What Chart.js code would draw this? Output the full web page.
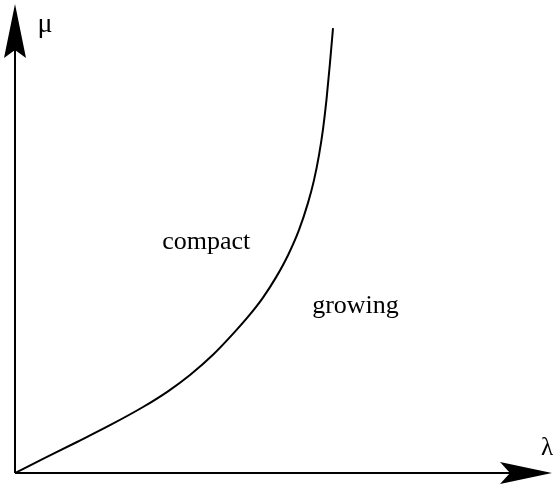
<!DOCTYPE html>
<html>
<head>
<meta charset="utf-8">
<script src="https://cdn.jsdelivr.net/npm/chart.js@4"></script>
<style>
  html, body { margin: 0; padding: 0; background: #fff; }
  canvas { display: block; }
</style>
</head>
<body>
<canvas id="phaseChart" width="554" height="486"></canvas>
<script>
// boundary curve between the two regions
const lambdaValues = [0, 5.21, 11.55, 17.69, 23.84, 28.49, 32.59, 36.87, 40.97, 43.76, 46.18,
                      48.60, 50.84, 52.89, 54.56, 55.68, 56.61, 57.36, 58.01, 58.66, 59.22];
const muValues     = [0, 2.99, 6.61, 10.19, 14.07, 17.42, 20.90, 25.20, 30.13, 33.80, 37.40,
                      41.71, 46.44, 51.83, 57.59, 62.45, 67.78, 73.33, 79.66, 87.50, 94.86];
const regionNames  = ['compact', 'growing'];
const axisNames    = ['λ', 'μ'];

const curve = lambdaValues.map((x, i) => ({ x: x, y: muValues[i] }));

// Axes, arrow heads and text labels
const diagramPlugin = {
  id: 'diagram',
  afterDatasetsDraw(chart) {
    const ctx = chart.ctx;
    const xs = chart.scales.x;
    const ys = chart.scales.y;
    const ox = xs.getPixelForValue(0);
    const oy = ys.getPixelForValue(0);
    const xEnd = xs.getPixelForValue(xs.max);
    const yEnd = ys.getPixelForValue(ys.max);

    ctx.save();
    ctx.strokeStyle = '#000';
    ctx.fillStyle = '#000';
    ctx.lineWidth = 2;

    // axis lines
    ctx.beginPath();
    ctx.moveTo(ox, oy);
    ctx.lineTo(xEnd - 20, oy);
    ctx.moveTo(ox, oy);
    ctx.lineTo(ox, yEnd + 20);
    ctx.stroke();

    // arrow on x axis
    ctx.beginPath();
    ctx.moveTo(xEnd, oy);
    ctx.lineTo(xEnd - 52, oy - 11);
    ctx.lineTo(xEnd - 42, oy);
    ctx.lineTo(xEnd - 52, oy + 11);
    ctx.closePath();
    ctx.fill();

    // arrow on y axis
    ctx.beginPath();
    ctx.moveTo(ox, yEnd);
    ctx.lineTo(ox - 11, yEnd + 54);
    ctx.lineTo(ox, yEnd + 46);
    ctx.lineTo(ox + 11, yEnd + 54);
    ctx.closePath();
    ctx.fill();

    ctx.textAlign = 'center';
    ctx.textBaseline = 'alphabetic';
    ctx.font = '28px "Liberation Serif", "DejaVu Serif", serif';
    ctx.fillText(axisNames[1], ox + 30, yEnd + 28);
    ctx.font = '25px "Liberation Serif", "DejaVu Serif", serif';
    ctx.fillText(axisNames[0], xEnd - 5, oy - 18);

    ctx.font = '26px "Liberation Serif", "DejaVu Serif", serif';
    ctx.fillText(regionNames[0], xs.getPixelForValue(35.6), ys.getPixelForValue(47.8));
    ctx.fillText(regionNames[1], xs.getPixelForValue(63.4), ys.getPixelForValue(34.1));
    ctx.restore();
  }
};

new Chart(document.getElementById('phaseChart'), {
  type: 'line',
  data: {
    datasets: [{
      data: curve,
      borderColor: '#000',
      borderWidth: 2,
      pointRadius: 0,
      fill: false,
      cubicInterpolationMode: 'monotone'
    }]
  },
  options: {
    responsive: false,
    animation: false,
    layout: { padding: { left: 15, right: 2, top: 4, bottom: 13 } },
    scales: {
      x: { type: 'linear', min: 0, max: 100, display: false },
      y: { type: 'linear', min: 0, max: 100, display: false }
    },
    plugins: {
      legend: { display: false },
      tooltip: { enabled: false }
    }
  },
  plugins: [diagramPlugin]
});
</script>
</body>
</html>
